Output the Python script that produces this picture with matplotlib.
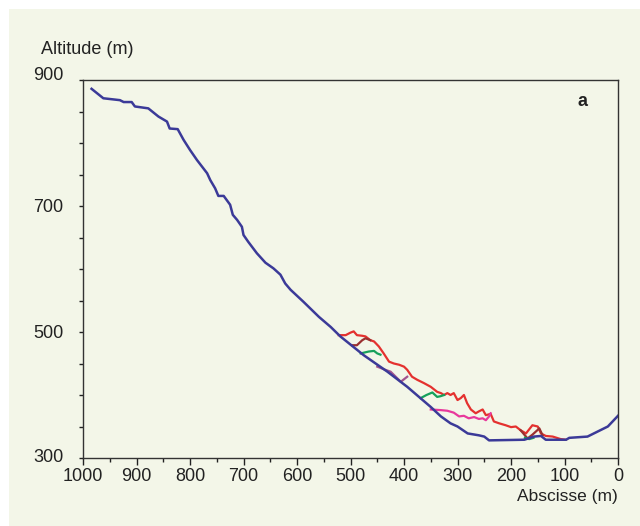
import numpy as np
import matplotlib.pyplot as plt
from matplotlib.patches import Rectangle
from matplotlib.transforms import ScaledTranslation

plt.rcParams['font.family'] = ['Liberation Sans', 'DejaVu Sans']

# profil principal (bleu)
blue_x = [984, 962, 931, 924, 909, 903, 878, 859, 843, 838, 823, 812, 800, 787, 768, 762,
          753, 747, 737, 731, 725, 720, 712, 703, 700, 691, 675, 659, 644, 631, 622, 612,
          588, 559, 537, 519, 475, 431, 394, 350, 331, 313, 300, 281, 260, 250, 241, 175,
          157, 144, 135, 97, 91, 57, 38, 19, 0]
blue_y = [886, 871, 868, 865, 865, 858, 855, 842, 834, 823, 822, 805, 789, 773, 752, 741,
          728, 716, 716, 709, 702, 686, 678, 667, 654, 643, 625, 610, 601, 591, 577, 567,
          548, 524, 508, 493, 463, 437, 413, 381, 366, 355, 350, 339, 336, 334, 328, 329,
          334, 335, 329, 329, 332, 334, 342, 350, 367]

red_x = [522, 509, 500, 494, 488, 478, 472, 463, 456, 447, 438, 428, 419, 409, 400, 394,
         385, 375, 363, 350, 338, 331, 325, 319, 313, 307, 300, 294, 288, 282, 275, 266,
         260, 253, 247, 238, 232, 222, 210, 200, 191, 182, 172, 160, 150, 144, 135, 122,
         107, 98]
red_y = [495, 495, 499, 501, 495, 494, 493, 487, 485, 477, 466, 453, 450, 448, 445, 440,
         429, 424, 419, 413, 405, 403, 400, 403, 400, 403, 392, 395, 400, 387, 377, 371,
         374, 377, 368, 370, 358, 355, 352, 349, 350, 344, 339, 352, 350, 339, 335, 334,
         330, 329]

maroon1_x = [497, 488, 478, 472, 463]
maroon1_y = [479, 479, 487, 490, 487]
maroon2_x = [182, 169, 160, 147, 141]
maroon2_y = [344, 331, 337, 347, 336]

green1_x = [481, 466, 456, 450, 444]
green1_y = [466, 469, 470, 466, 464]
green2_x = [369, 358, 347, 338, 332, 325]
green2_y = [395, 400, 404, 397, 398, 400]
green3_x = [174, 166, 158]
green3_y = [332, 330, 332]

purple_x = [450, 435, 425, 406, 394]
purple_y = [445, 440, 437, 421, 429]

magenta_x = [350, 331, 319, 307, 297, 288, 279, 269, 260, 253, 247, 241, 238]
magenta_y = [377, 376, 375, 372, 366, 367, 363, 365, 362, 363, 360, 366, 371]

bg = '#f3f6e8'
ink = '#222222'
fig = plt.figure(figsize=(6.4, 5.26), dpi=100, facecolor='white')
fig.patches.append(Rectangle((9 / 640, 0), 1, 1 - 9 / 526, transform=fig.transFigure,
                             facecolor=bg, edgecolor='none', zorder=-10))
ax = fig.add_axes([83 / 640, 1 - 458 / 526, 535 / 640, 378 / 526])
ax.set_facecolor(bg)

lw = 1.6
ax.plot(red_x, red_y, color='#e4312f', lw=lw)
ax.plot(maroon1_x, maroon1_y, color='#9a3030', lw=lw)
ax.plot(maroon2_x, maroon2_y, color='#9a3030', lw=lw)
ax.plot(green1_x, green1_y, color='#16a05c', lw=lw)
ax.plot(green2_x, green2_y, color='#16a05c', lw=lw)
ax.plot(green3_x, green3_y, color='#16a05c', lw=lw)
ax.plot(purple_x, purple_y, color='#a2548e', lw=lw)
ax.plot(magenta_x, magenta_y, color='#e8399c', lw=lw)
ax.plot(blue_x, blue_y, color='#3b3a98', lw=1.8)

ax.set_xlim(1000, 0)
ax.set_ylim(300, 900)
ax.set_xticks(np.arange(0, 1001, 100))
ax.set_xticks(np.arange(50, 1000, 100), minor=True)
ax.set_yticks([300, 500, 700, 900])
ax.set_yticks(np.arange(350, 900, 50), minor=True)
ax.tick_params(axis='both', which='both', direction='out', colors=ink,
               labelsize=13, width=1)
ax.tick_params(axis='x', which='major', length=5, pad=2)
ax.tick_params(axis='x', which='minor', length=3)
ax.tick_params(axis='y', which='both', length=3, pad=11)
for s in ax.spines.values():
    s.set_color('#333333')
    s.set_linewidth(1)

ylabs = ax.get_yticklabels()
ylabs[0].set_transform(ylabs[0].get_transform() + ScaledTranslation(0, 3 / 100, fig.dpi_scale_trans))
ylabs[-1].set_transform(ylabs[-1].get_transform() + ScaledTranslation(0, 7 / 100, fig.dpi_scale_trans))

fig.text(41 / 640, 1 - 50 / 526, 'Altitude (m)', fontsize=13, va='center', ha='left', color=ink)
fig.text(618 / 640, 1 - 497 / 526, 'Abscisse (m)', fontsize=12.5, va='center', ha='right', color=ink)
fig.text(583 / 640, 1 - 102 / 526, 'a', fontsize=13, fontweight='bold', va='center', ha='center',
         color=ink)

fig.savefig('out.png', dpi=100, facecolor=fig.get_facecolor())
